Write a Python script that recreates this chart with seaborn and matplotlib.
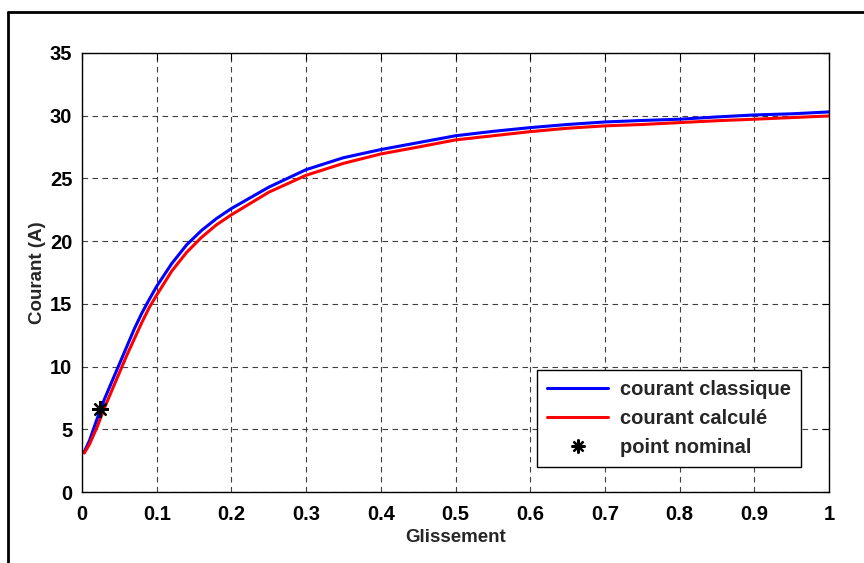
import numpy as np
import pandas as pd
import matplotlib
matplotlib.use('Agg')
import matplotlib.pyplot as plt
from matplotlib.lines import Line2D
import seaborn as sns

# Données
glissement = [0.003, 0.01, 0.02, 0.03, 0.04, 0.05, 0.06, 0.07, 0.08, 0.09, 0.1,
              0.12, 0.14, 0.16, 0.18, 0.2, 0.25, 0.3, 0.35, 0.4, 0.45, 0.5,
              0.55, 0.6, 0.65, 0.7, 0.75, 0.8, 0.85, 0.9, 0.95, 1.0]
courant_classique = [3.2, 4.1, 5.8, 7.4, 8.8, 10.2, 11.6, 13.0, 14.25, 15.35, 16.4,
                     18.2, 19.7, 20.85, 21.8, 22.6, 24.3, 25.7, 26.65, 27.3, 27.85, 28.4,
                     28.75, 29.05, 29.3, 29.5, 29.62, 29.72, 29.9, 30.06, 30.15, 30.3]
courant_calcule = [3.1, 3.8, 5.15, 6.7, 8.1, 9.5, 10.9, 12.2, 13.5, 14.7, 15.7,
                   17.6, 19.1, 20.3, 21.3, 22.1, 23.9, 25.25, 26.2, 26.95, 27.5, 28.07,
                   28.4, 28.73, 29.0, 29.19, 29.3, 29.45, 29.6, 29.72, 29.85, 29.98]
point_nominal_g = [0.024]
point_nominal_i = [6.6]

x_ticks = [0, 0.1, 0.2, 0.3, 0.4, 0.5, 0.6, 0.7, 0.8, 0.9, 1]
x_labels = ['0', '0.1', '0.2', '0.3', '0.4', '0.5', '0.6', '0.7', '0.8', '0.9', '1']
y_ticks = [0, 5, 10, 15, 20, 25, 30, 35]

df = pd.DataFrame({
    'glissement': glissement * 2,
    'courant': courant_classique + courant_calcule,
    'serie': ['courant classique'] * len(glissement) + ['courant calculé'] * len(glissement),
})

sns.set_style('white')
plt.rcParams['font.family'] = ['Liberation Sans', 'DejaVu Sans']
plt.rcParams['font.weight'] = 'bold'

fig = plt.figure(figsize=(8.64, 5.63), dpi=100)
ax = fig.add_axes([0.0949, 0.1261, 0.8646, 0.7798])

# Courbes
sns.lineplot(data=df, x='glissement', y='courant', hue='serie',
             palette={'courant classique': '#0000ff', 'courant calculé': '#ff0000'},
             linewidth=2.2, ax=ax, legend=False)

# Point nominal (astérisque façon MATLAB)
ax.plot(point_nominal_g, point_nominal_i, linestyle='none', marker=(8, 2, 0),
        markersize=12, markeredgewidth=1.6, color='black')

# Axes et grille
ax.set_xlim(0, 1)
ax.set_ylim(0, 35)
ax.set_xticks(x_ticks)
ax.set_xticklabels(x_labels)
ax.set_yticks(y_ticks)
ax.grid(True, color='0.25', linestyle=(0, (5, 4)), linewidth=0.8)
ax.tick_params(direction='in', top=True, right=True, length=5, width=0.8,
               labelsize=14.5, colors='black')
ax.tick_params(axis='x', pad=9)
ax.tick_params(axis='y', pad=7)
for lab in ax.get_xticklabels() + ax.get_yticklabels():
    lab.set_fontweight('bold')
for sp in ax.spines.values():
    sp.set_visible(True)
    sp.set_color('black')
    sp.set_linewidth(1.0)

ax.set_xlabel('Glissement', fontsize=13.5, fontweight='bold', labelpad=4)
ax.set_ylabel('Courant (A)', fontsize=13.5, fontweight='bold', labelpad=3)

# Légende
handles = [
    Line2D([], [], color='#0000ff', linewidth=2.2),
    Line2D([], [], color='#ff0000', linewidth=2.2),
    Line2D([], [], color='black', linestyle='none', marker=(8, 2, 0),
           markersize=10, markeredgewidth=1.6),
]
leg = ax.legend(handles, ['courant classique', 'courant calculé', 'point nominal'],
                loc='lower right', bbox_to_anchor=(0.9625, 0.057), borderaxespad=0,
                prop={'size': 14.5, 'weight': 'bold'}, handlelength=3.0,
                fancybox=False, framealpha=1, edgecolor='black',
                borderpad=0.5, labelspacing=0.5, handletextpad=0.6)
leg.get_frame().set_linewidth(1.0)

# Cadre extérieur (haut et gauche)
fig.add_artist(Line2D([8 / 864, 8 / 864], [0, 1 - 12 / 563], color='black',
                      linewidth=2, transform=fig.transFigure))
fig.add_artist(Line2D([8 / 864, 1], [1 - 12 / 563, 1 - 12 / 563], color='black',
                      linewidth=2, transform=fig.transFigure))

fig.savefig('out.png', dpi=100)
